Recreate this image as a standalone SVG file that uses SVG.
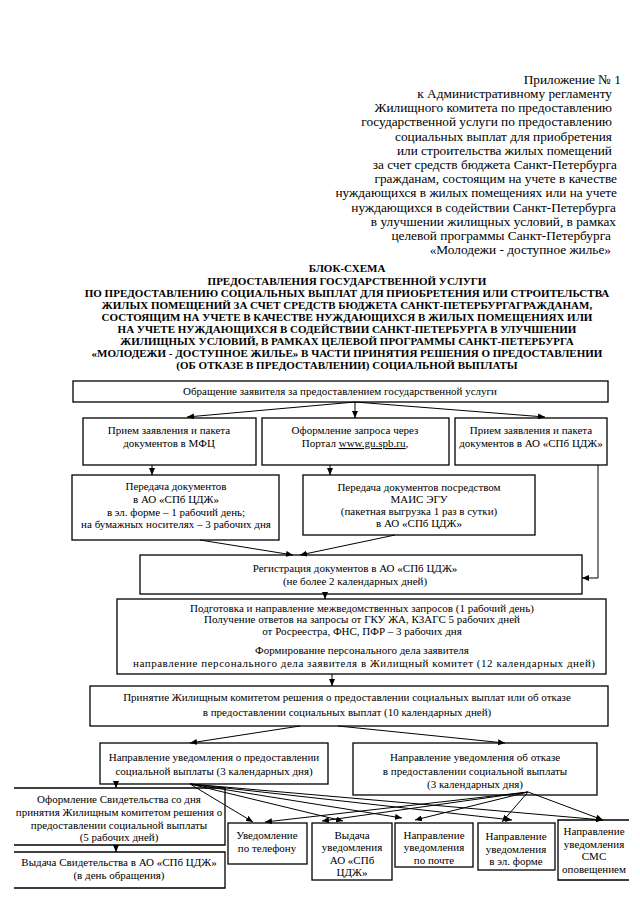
<svg xmlns="http://www.w3.org/2000/svg" width="640" height="905" viewBox="0 0 640 905">
<style>
.hd{font-family:"Liberation Serif",serif;font-size:13.3px;fill:#000;text-anchor:end}
.tt{font-family:"Liberation Serif",serif;font-size:11px;font-weight:bold;fill:#000;text-anchor:middle}
.bx{fill:#fff;stroke:#000;stroke-width:1.3}
.t{font-family:"Liberation Serif",serif;font-size:11px;fill:#000;text-anchor:middle}
.c{fill:none;stroke:#000;stroke-width:1}
</style>
<defs>
<marker id="ah" markerUnits="userSpaceOnUse" markerWidth="8" markerHeight="6" refX="7" refY="3" orient="auto">
<path d="M0,0 L7,3 L0,6 Z" fill="#000"/>
</marker>
</defs>
<rect width="640" height="905" fill="#fff"/>
<g id="header">
<text class="hd" x="621" y="84">Приложение № 1</text>
<text class="hd" x="612" y="98">к Административному регламенту</text>
<text class="hd" x="612" y="112">Жилищного комитета по предоставлению</text>
<text class="hd" x="612" y="126">государственной услуги по предоставлению</text>
<text class="hd" x="612" y="141">социальных выплат для приобретения</text>
<text class="hd" x="612" y="155">или строительства жилых помещений</text>
<text class="hd" x="617" y="169">за счет средств бюджета Санкт-Петербурга</text>
<text class="hd" x="617" y="183">гражданам, состоящим на учете в качестве</text>
<text class="hd" x="617" y="197">нуждающихся в жилых помещениях или на учете</text>
<text class="hd" x="616" y="212">нуждающихся в содействии Санкт-Петербурга</text>
<text class="hd" x="616" y="226">в улучшении жилищных условий, в рамках</text>
<text class="hd" x="611" y="240">целевой программы Санкт-Петербурга</text>
<text class="hd" x="611" y="254">«Молодежи - доступное жилье»</text>
</g>
<g id="title">
<text class="tt" x="347" y="272">БЛОК-СХЕМА</text>
<text class="tt" x="347" y="284.5">ПРЕДОСТАВЛЕНИЯ ГОСУДАРСТВЕННОЙ УСЛУГИ</text>
<text class="tt" x="347" y="297">ПО ПРЕДОСТАВЛЕНИЮ СОЦИАЛЬНЫХ ВЫПЛАТ ДЛЯ ПРИОБРЕТЕНИЯ ИЛИ СТРОИТЕЛЬСТВА</text>
<text class="tt" x="347" y="309">ЖИЛЫХ ПОМЕЩЕНИЙ ЗА СЧЕТ СРЕДСТВ БЮДЖЕТА САНКТ-ПЕТЕРБУРГАГРАЖДАНАМ,</text>
<text class="tt" x="347" y="321">СОСТОЯЩИМ НА УЧЕТЕ В КАЧЕСТВЕ НУЖДАЮЩИХСЯ В ЖИЛЫХ ПОМЕЩЕНИЯХ ИЛИ</text>
<text class="tt" x="347" y="333">НА УЧЕТЕ НУЖДАЮЩИХСЯ В СОДЕЙСТВИИ САНКТ-ПЕТЕРБУРГА В УЛУЧШЕНИИ</text>
<text class="tt" x="347" y="345">ЖИЛИЩНЫХ УСЛОВИЙ, В РАМКАХ ЦЕЛЕВОЙ ПРОГРАММЫ САНКТ-ПЕТЕРБУРГА</text>
<text class="tt" x="347" y="357">«МОЛОДЕЖИ - ДОСТУПНОЕ ЖИЛЬЕ» В ЧАСТИ ПРИНЯТИЯ РЕШЕНИЯ О ПРЕДОСТАВЛЕНИИ</text>
<text class="tt" x="347" y="369">(ОБ ОТКАЗЕ В ПРЕДОСТАВЛЕНИИ) СОЦИАЛЬНОЙ ВЫПЛАТЫ</text>
</g>
<g id="n-appeal">
<rect class="bx" x="73" y="381" width="535" height="21"/>
<text class="t" x="340" y="395">Обращение заявителя за предоставлением государственной услуги</text>
</g>
<g id="n-mfc">
<rect class="bx" x="83" y="418" width="173" height="47"/>
<text class="t" x="169" y="434">Прием заявления и пакета</text>
<text class="t" x="169" y="447">документов в МФЦ</text>
</g>
<g id="n-portal">
<rect class="bx" x="262" y="418" width="187" height="47"/>
<text class="t" x="355" y="434">Оформление запроса через</text>
<text class="t" x="355" y="447">Портал <tspan text-decoration="underline">www.gu.spb.ru</tspan>,</text>
</g>
<g id="n-cdzh">
<rect class="bx" x="455" y="418" width="152" height="47"/>
<text class="t" x="531" y="434">Прием заявления и пакета</text>
<text class="t" x="531" y="447">документов в АО «СПб ЦДЖ»</text>
</g>
<g id="n-transfer">
<rect class="bx" x="72" y="475" width="207" height="65"/>
<text class="t" x="176" y="490">Передача документов</text>
<text class="t" x="176" y="503">в АО «СПб ЦДЖ»</text>
<text class="t" x="176" y="516">в эл. форме – 1  рабочий день;</text>
<text class="t" x="176" y="528">на бумажных носителях – 3 рабочих дня</text>
</g>
<g id="n-mais">
<rect class="bx" x="303" y="475" width="232" height="60"/>
<text class="t" x="419" y="491">Передача документов посредством</text>
<text class="t" x="419" y="503">МАИС ЭГУ</text>
<text class="t" x="419" y="515">(пакетная выгрузка 1 раз в сутки)</text>
<text class="t" x="419" y="527">в АО «СПб ЦДЖ»</text>
</g>
<g id="n-reg">
<rect class="bx" x="140" y="555" width="442" height="39"/>
<text class="t" x="355" y="572">Регистрация документов в АО «СПб ЦДЖ»</text>
<text class="t" x="355" y="585">(не более 2 календарных дней)</text>
</g>
<g id="n-prep">
<rect class="bx" x="117" y="599" width="489" height="75"/>
<text class="t" x="362" y="612">Подготовка и направление межведомственных запросов (1 рабочий день)</text>
<text class="t" x="362" y="623">Получение ответов на запросы от ГКУ ЖА, КЗАГС 5 рабочих дней</text>
<text class="t" x="362" y="635">от Росреестра, ФНС, ПФР – 3 рабочих дня</text>
<text class="t" x="362" y="654">Формирование персонального дела заявителя</text>
<text class="t" x="364" y="667" textLength="462" lengthAdjust="spacing">направление персонального дела заявителя  в Жилищный комитет (12 календарных дней)</text>
</g>
<g id="n-decision">
<rect class="bx" x="90" y="686" width="518" height="40"/>
<text class="t" x="347" y="701">Принятие Жилищным комитетом решения о предоставлении социальных выплат или об отказе</text>
<text class="t" x="347" y="716">в предоставлении социальных выплат (10 календарных дней)</text>
</g>
<g id="n-notif-yes">
<rect class="bx" x="100" y="743" width="228" height="41"/>
<text class="t" x="214" y="761">Направление уведомления о предоставлении</text>
<text class="t" x="214" y="775">социальной выплаты (3 календарных дня)</text>
</g>
<g id="n-notif-no">
<rect class="bx" x="353" y="743" width="244" height="52"/>
<text class="t" x="475" y="761">Направление уведомления  об отказе</text>
<text class="t" x="475" y="775">в предоставлении социальной выплаты</text>
<text class="t" x="475" y="788">(3 календарных дня)</text>
</g>
<g id="n-cert">
<path class="bx" d="M14,788 H225 V845 H14"/>
<text class="t" x="119" y="803">Оформление Свидетельства со дня</text>
<text class="t" x="119" y="816">принятия Жилищным комитетом решения о</text>
<text class="t" x="119" y="829">предоставлении социальной выплаты</text>
<text class="t" x="119" y="841">(5 рабочих дней)</text>
</g>
<g id="n-issue">
<path class="bx" d="M14,852 H225 V888 H14"/>
<text class="t" x="119" y="866">Выдача Свидетельства в АО «СПб ЦДЖ»</text>
<text class="t" x="119" y="879">(в день обращения)</text>
</g>
<g id="n-phone">
<rect class="bx" x="228" y="823" width="79" height="41"/>
<text class="t" x="267" y="839">Уведомление</text>
<text class="t" x="267" y="852">по телефону</text>
</g>
<g id="n-give">
<rect class="bx" x="312" y="823" width="80" height="57"/>
<text class="t" x="352" y="839">Выдача</text>
<text class="t" x="352" y="851">уведомления</text>
<text class="t" x="352" y="864">АО «СПб</text>
<text class="t" x="352" y="876">ЦДЖ»</text>
</g>
<g id="n-mail">
<rect class="bx" x="395" y="823" width="78" height="44"/>
<text class="t" x="434" y="839">Направление</text>
<text class="t" x="434" y="851">уведомления</text>
<text class="t" x="434" y="864">по почте</text>
</g>
<g id="n-email">
<rect class="bx" x="478" y="823" width="77" height="47"/>
<text class="t" x="516" y="840">Направление</text>
<text class="t" x="516" y="853">уведомления</text>
<text class="t" x="516" y="865">в эл. форме</text>
</g>
<g id="n-sms">
<path class="bx" d="M629,820 H558 V880 H629"/>
<text class="t" x="594" y="835">Направление</text>
<text class="t" x="594" y="848">уведомления</text>
<text class="t" x="594" y="860">СМС</text>
<text class="t" x="594" y="873">оповещением</text>
</g>
<g id="connectors" class="c" marker-end="url(#ah)">
<line x1="355" y1="402" x2="187" y2="417"/>
<line x1="355" y1="402" x2="355" y2="418"/>
<line x1="355" y1="402" x2="545" y2="417"/>
<line x1="152" y1="465" x2="152" y2="475"/>
<line x1="330" y1="465" x2="330" y2="475"/>
<polyline points="598,465 598,578 582,578"/>
<line x1="200" y1="540" x2="293" y2="555"/>
<line x1="395" y1="535" x2="300" y2="555"/>
<line x1="325" y1="594" x2="325" y2="599"/>
<line x1="332" y1="674" x2="332" y2="686"/>
<line x1="300" y1="726" x2="190" y2="743"/>
<line x1="338" y1="726" x2="505" y2="743"/>
<line x1="116" y1="784" x2="116" y2="788"/>
<line x1="116" y1="845" x2="116" y2="852"/>
<line x1="190" y1="784" x2="253" y2="822"/>
<line x1="190" y1="784" x2="343" y2="821"/>
<line x1="190" y1="784" x2="402" y2="818"/>
<line x1="190" y1="784" x2="512" y2="820"/>
<line x1="190" y1="784" x2="603" y2="820"/>
<line x1="528" y1="792" x2="265" y2="822"/>
<line x1="528" y1="792" x2="322" y2="821"/>
<line x1="528" y1="792" x2="415" y2="820"/>
<line x1="528" y1="792" x2="502" y2="822"/>
<line x1="528" y1="792" x2="603" y2="820"/>
</g>
</svg>
